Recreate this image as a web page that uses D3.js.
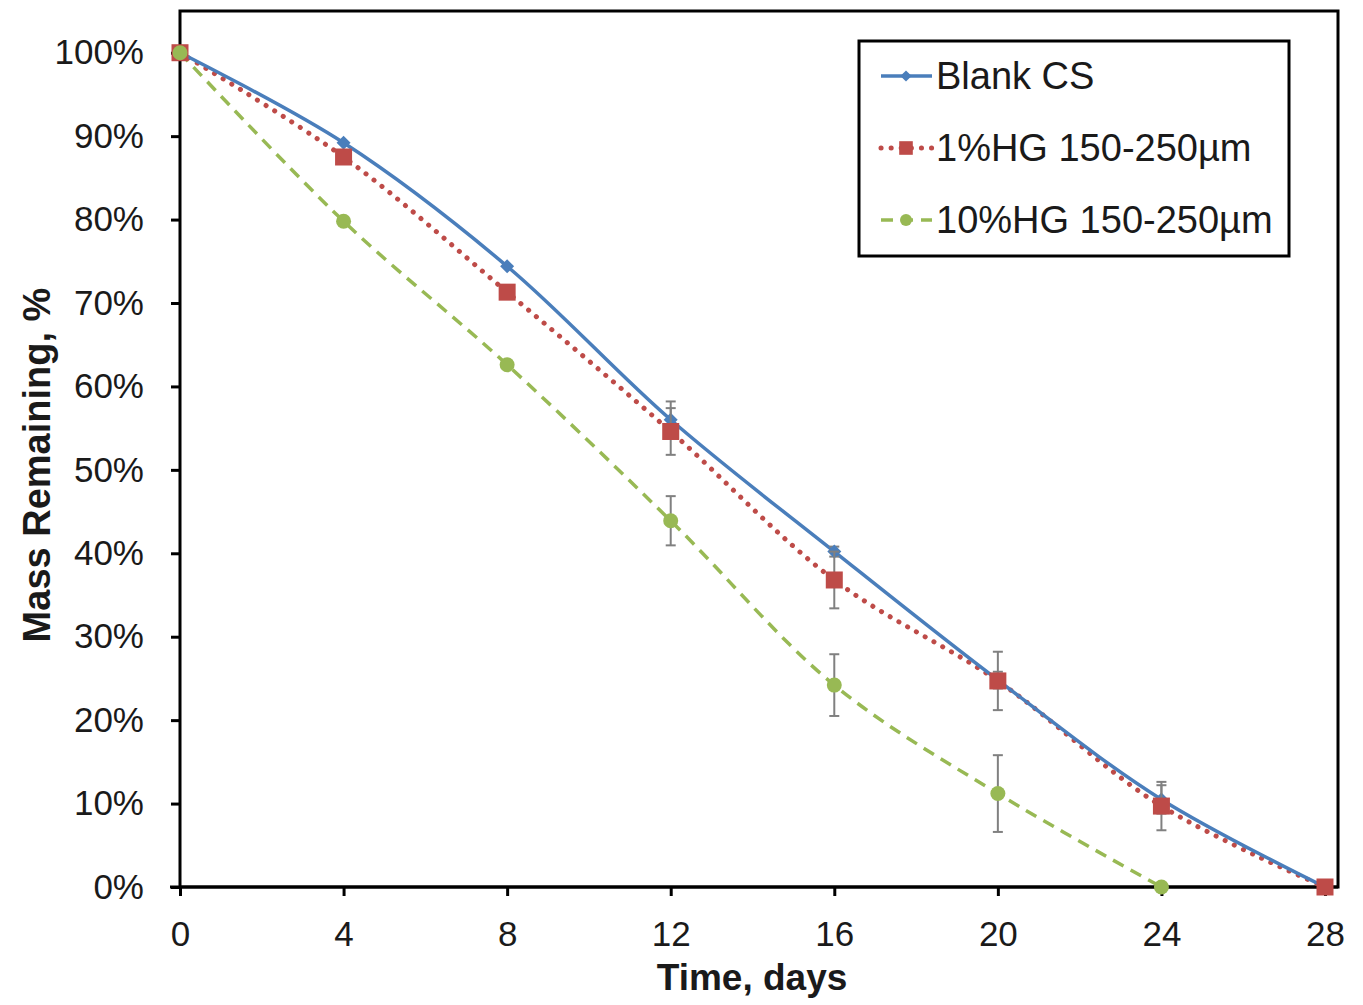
<!DOCTYPE html>
<html>
<head>
<meta charset="utf-8">
<script src="https://cdn.jsdelivr.net/npm/d3@7"></script>
<style>
  body { margin: 0; background: #fff; }
  text { font-family: "Liberation Sans", Arial, sans-serif; fill: #1a1a1a; }
</style>
</head>
<body>
<svg id="chart" width="1363" height="1005"></svg>
<script>
// data
const days = [0, 4, 8, 12, 16, 20, 24, 28];
const blankCS = [100, 89.2, 74.4, 56.0, 40.2, 24.8, 10.5, 0];
const blankErr = [0, 0, 0, 2.2, 0.6, 1.0, 1.7, 0];
const hg1 = [100, 87.5, 71.3, 54.6, 36.8, 24.7, 9.7, 0];
const hg1Err = [0, 0, 0, 2.8, 3.4, 3.5, 2.9, 0];
const hg10Days = [0, 4, 8, 12, 16, 20, 24];
const hg10 = [100, 79.8, 62.6, 43.9, 24.2, 11.2, 0];
const hg10Err = [0, 0, 0, 2.95, 3.7, 4.6, 0];
const xTicks = [0, 4, 8, 12, 16, 20, 24, 28];
const yTicks = [0, 10, 20, 30, 40, 50, 60, 70, 80, 90, 100];
const seriesNames = ["Blank CS", "1%HG 150-250\u00b5m", "10%HG 150-250\u00b5m"];

const svg = d3.select("#chart");
const plotL = 180, plotR = 1325, plotT = 11, plotB = 887;

const x = d3.scaleLinear().domain([0, 28]).range([plotL, plotR]);
const y = d3.scaleLinear().domain([0, 105]).range([plotB, plotT]);

// frame
svg.append("rect")
  .attr("x", plotL).attr("y", plotT)
  .attr("width", plotR - plotL + 13).attr("height", plotB - plotT)
  .attr("fill", "none").attr("stroke", "#000").attr("stroke-width", 3);

// y axis
const yAxis = svg.append("g")
  .attr("transform", `translate(${plotL},0)`)
  .call(d3.axisLeft(y).tickValues(yTicks).tickFormat(d => d + "%").tickSize(9).tickPadding(27));
yAxis.select(".domain").remove();
yAxis.selectAll("line").attr("stroke", "#000").attr("stroke-width", 3);
yAxis.selectAll("text").style("font-size", "35px").attr("fill", "#1a1a1a")
  .style("font-family", "Liberation Sans, Arial, sans-serif");

// x axis
const xAxis = svg.append("g")
  .attr("transform", `translate(0,${plotB})`)
  .call(d3.axisBottom(x).tickValues(xTicks).tickSize(9).tickPadding(25));
xAxis.select(".domain").remove();
xAxis.selectAll("line").attr("stroke", "#000").attr("stroke-width", 3);
xAxis.selectAll("text").style("font-size", "35px").attr("fill", "#1a1a1a")
  .style("font-family", "Liberation Sans, Arial, sans-serif");

// bottom axis line
svg.append("line").attr("x1", plotL - 10).attr("x2", plotR + 13)
  .attr("y1", plotB).attr("y2", plotB).attr("stroke", "#000").attr("stroke-width", 3);

// axis titles
svg.append("text").attr("x", 752).attr("y", 990)
  .attr("text-anchor", "middle").style("font-size", "37px").style("font-weight", "bold")
  .text("Time, days");
svg.append("text").attr("transform", `translate(50,465) rotate(-90)`)
  .attr("text-anchor", "middle").style("font-size", "38px").style("font-weight", "bold")
  .text("Mass Remaining, %");

const series = [
  { name: seriesNames[0], xs: days, ys: blankCS, err: blankErr, color: "#4a7ebb", dash: null, cap: "butt", marker: "diamond", width: 3.5 },
  { name: seriesNames[1], xs: days, ys: hg1, err: hg1Err, color: "#be4b48", dash: "0.1 10", cap: "round", marker: "square", width: 5 },
  { name: seriesNames[2], xs: hg10Days, ys: hg10, err: hg10Err, color: "#98b954", dash: "12 8", cap: "butt", marker: "circle", width: 3.5 }
];

const line = d3.line().curve(d3.curveCatmullRom.alpha(0.5));

function drawMarker(g, type, cx, cy, color, scale) {
  const s = scale || 1;
  if (type === "diamond") {
    const r = 7 * s;
    g.append("path").attr("d", `M${cx},${cy - r}L${cx + r},${cy}L${cx},${cy + r}L${cx - r},${cy}Z`).attr("fill", color);
  } else if (type === "square") {
    const h = 8.5 * s;
    g.append("rect").attr("x", cx - h).attr("y", cy - h).attr("width", 2 * h).attr("height", 2 * h).attr("fill", color);
  } else {
    g.append("circle").attr("cx", cx).attr("cy", cy).attr("r", 7.5 * s).attr("fill", color);
  }
}

// lines first, blank on top
const plot = svg.append("g");
[series[2], series[1], series[0]].forEach(s => {
  const pts = s.xs.map((d, i) => [x(d), y(s.ys[i])]);
  plot.append("path").attr("d", line(pts)).attr("fill", "none")
    .attr("stroke", s.color).attr("stroke-width", s.width)
    .attr("stroke-dasharray", s.dash).attr("stroke-linecap", s.cap);
});
// error bars + markers
series.forEach(s => {
  const g = plot.append("g");
  s.xs.forEach((d, i) => {
    if (s.err[i] > 0) {
      const cx = x(d), y1 = y(s.ys[i] + s.err[i]), y2 = y(s.ys[i] - s.err[i]);
      g.append("line").attr("x1", cx).attr("x2", cx).attr("y1", y1).attr("y2", y2)
        .attr("stroke", "#808080").attr("stroke-width", 2);
      [y1, y2].forEach(yy => g.append("line").attr("x1", cx - 5).attr("x2", cx + 5)
        .attr("y1", yy).attr("y2", yy).attr("stroke", "#808080").attr("stroke-width", 2));
    }
  });
  s.xs.forEach((d, i) => drawMarker(g, s.marker, x(d), y(s.ys[i]), s.color));
});

// legend
const lg = svg.append("g");
lg.append("rect").attr("x", 859).attr("y", 41).attr("width", 430).attr("height", 215)
  .attr("fill", "#fff").attr("stroke", "#000").attr("stroke-width", 3);
series.forEach((s, i) => {
  const ly = 76 + i * 72;
  lg.append("line").attr("x1", 881).attr("x2", 932).attr("y1", ly).attr("y2", ly)
    .attr("stroke", s.color).attr("stroke-width", s.width)
    .attr("stroke-dasharray", s.dash).attr("stroke-linecap", s.cap);
  drawMarker(lg, s.marker, 906, ly, s.color, 0.8);
  lg.append("text").attr("x", 936).attr("y", ly + 13).style("font-size", "38px").text(s.name);
});
</script>
</body>
</html>
